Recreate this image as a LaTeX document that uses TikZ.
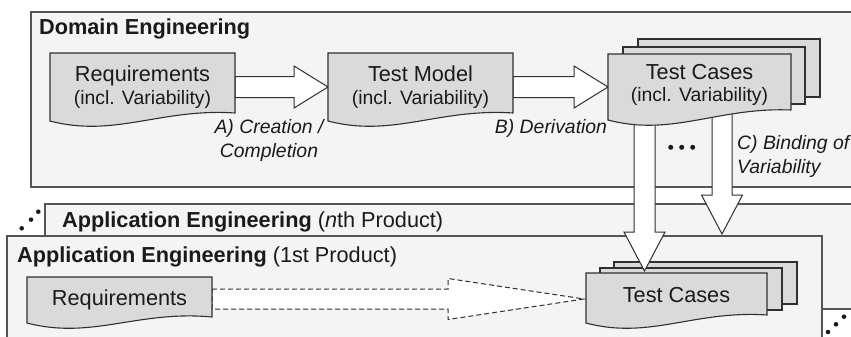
\documentclass[tikz,border=0pt]{standalone}
\usepackage{fontspec}
\setmainfont{Liberation Sans}
\usetikzlibrary{calc}
\definecolor{contfill}{HTML}{F4F4F4}
\definecolor{contline}{HTML}{555555}
\definecolor{docfill}{HTML}{DADADA}
\definecolor{docline}{HTML}{303030}
\definecolor{txt}{HTML}{1A1A1A}
\newcommand\mainsz{\fontsize{21.7}{22.5}\selectfont}
\newcommand\subsz{\fontsize{19.4}{22.5}\selectfont}
\newcommand\lblsz{\fontsize{19.4}{24}\selectfont}
% document outline drawn around a named node: #1 node, #2 rise of right corner
\newcommand\docpath[2]{%
  \draw[docshape] (#1.north west) -- (#1.north east) -- ($(#1.south east)+(0,-#2)$)
    .. controls ($(#1.south west)!0.6!(#1.south east)+(0,-13)$) and ($(#1.south west)!0.35!(#1.south east)+(0,17)$) .. (#1.south west) -- cycle;}
% horizontal block arrow: #1 style, #2 from, #3 tip, #4 shaft half, #5 head half, #6 head length
\newcommand\hblock[6]{%
  \draw[#1] ($(#2)+(0,-#4)$) -- ($(#3)+(-#6,-#4)$) -- ($(#3)+(-#6,-#5)$) -- (#3) -- ($(#3)+(-#6,#5)$) -- ($(#3)+(-#6,#4)$) -- ($(#2)+(0,#4)$) -- cycle;}
% vertical block arrow (downwards)
\newcommand\vblock[6]{%
  \draw[#1] ($(#2)+(-#4,0)$) -- ($(#3)+(-#4,-#6)$) -- ($(#3)+(-#5,-#6)$) -- (#3) -- ($(#3)+(#5,-#6)$) -- ($(#3)+(#4,-#6)$) -- ($(#2)+(#4,0)$) -- cycle;}
\begin{document}
\begin{tikzpicture}[x=1pt,y=-1pt,
  container/.style={fill=contfill,draw=contline,line width=1.3pt},
  docshape/.style={fill=docfill,draw=docline,line width=1.1pt},
  docbox/.style={rectangle,inner sep=0pt,outer sep=0pt},
  doctext/.style={inner sep=0pt,text=txt,align=center,font=\mainsz},
  blockarrow/.style={fill=white,draw=docline,line width=1pt,line join=miter},
  dasharrow/.style={fill=white,draw=docline,line width=1pt,dash pattern=on 5pt off 3pt},
  hdr/.style={inner sep=0pt,text=txt,font=\mainsz},
  lbl/.style={inner sep=0pt,text=txt,font=\lblsz\itshape},
  dot/.style={fill=txt}]
\useasboundingbox (0,0) rectangle (851,337);
\clip (0,0) rectangle (851,337);
\fill[white] (0,0) rectangle (851,337);

% containers
\draw[container] (31,12) rectangle (880,187);
\draw[container] (45,204) rectangle (880,309);
\draw[container] (7,236) rectangle (822,360);

% header labels
\node[hdr,anchor=base west] (hd) at (39,35) {\textbf{Domain Engineering}};
\node[hdr,anchor=base west] (hn) at (62,227) {\textbf{Application Engineering} (\textit{n}th Product)};
\node[hdr,anchor=base west] (h1) at (17,262) {\textbf{Application Engineering} (1st Product)};

% document frames (placement only)
\node[docbox,minimum width=185,minimum height=68] (req) at (142.5,87) {};
\node[docbox,minimum width=185,minimum height=68] (tm) at (420.5,87) {};
\node[docbox,minimum width=183,minimum height=66] (dtc) at (699.5,87) {};
\node[docbox,minimum width=185,minimum height=46] (areq) at (119.5,300) {};
\node[docbox,minimum width=181,minimum height=50] (atc) at (676.5,298) {};

% application test case stack (back sheets)
\draw[docshape] ($(atc.north west)+(28,-11)$) rectangle ($(atc.south east)+(30,-19)$);
\draw[docshape] ($(atc.north west)+(14,-5)$) rectangle ($(atc.south east)+(15,-13)$);

% vertical arrows
\coordinate (tip1) at (644.5,271);
\coordinate (tip2) at (722,234);
\coordinate (s1) at (tip1 |- dtc.center);
\coordinate (s2) at (tip2 |- dtc.center);
\vblock{blockarrow}{s1}{tip1}{10.5}{20.5}{39}
\vblock{blockarrow}{s2}{tip2}{10}{20.5}{39}

% horizontal arrows
\hblock{blockarrow}{req.east}{tm.west}{10.5}{21}{34}
\hblock{blockarrow}{tm.east}{dtc.west}{10.5}{21}{34}
\coordinate (atip) at ($(atc.west)+(-2,1)$);
\coordinate (astart) at (areq.east |- atip);
\hblock{dasharrow}{astart}{atip}{10}{20.5}{136}

% documents
\docpath{req}{8}
\node[doctext] (reqt) at ($(req.center)+(0,0)$) {Requirements\\\subsz (incl. Variability)};
\docpath{tm}{8}
\node[doctext] (tmt) at ($(tm.center)+(0,0)$) {Test Model\\\subsz (incl. Variability)};
\draw[docshape] ($(dtc.north west)+(30,-15)$) rectangle ($(dtc.south east)+(29,-23)$);
\draw[docshape] ($(dtc.north west)+(15,-7)$) rectangle ($(dtc.south east)+(14,-16)$);
\docpath{dtc}{10}
\node[doctext] (dtct) at ($(dtc.center)+(0,-2)$) {Test Cases\\\subsz (incl. Variability)};
\docpath{areq}{6}
\node[doctext] (areqt) at (areq.center) {Requirements};
\docpath{atc}{8}
\node[doctext] (atct) at ($(atc.center)+(0,-3)$) {Test Cases};

% arrow labels
\node[lbl,align=center] (la) at (269,140) {A) Creation /\\Completion};
\node[lbl] (lb) at (551,128) {B) Derivation};
\node[lbl,align=left,anchor=west] (lc) at (737,156) {C) Binding of\\Variability};

% ellipsis dots
\fill[dot] (670.7,147.3) circle (2.5) (681.7,147.3) circle (2.5) (692.7,147.3) circle (2.5);
\fill[dot] (21.7,228.3) circle (2.3) (31,219.6) circle (2.3) (38.3,211.7) circle (2.3);
\fill[dot] (828,332) circle (2.3) (836,324.3) circle (2.3) (844,316.7) circle (2.3);
\end{tikzpicture}
\end{document}
